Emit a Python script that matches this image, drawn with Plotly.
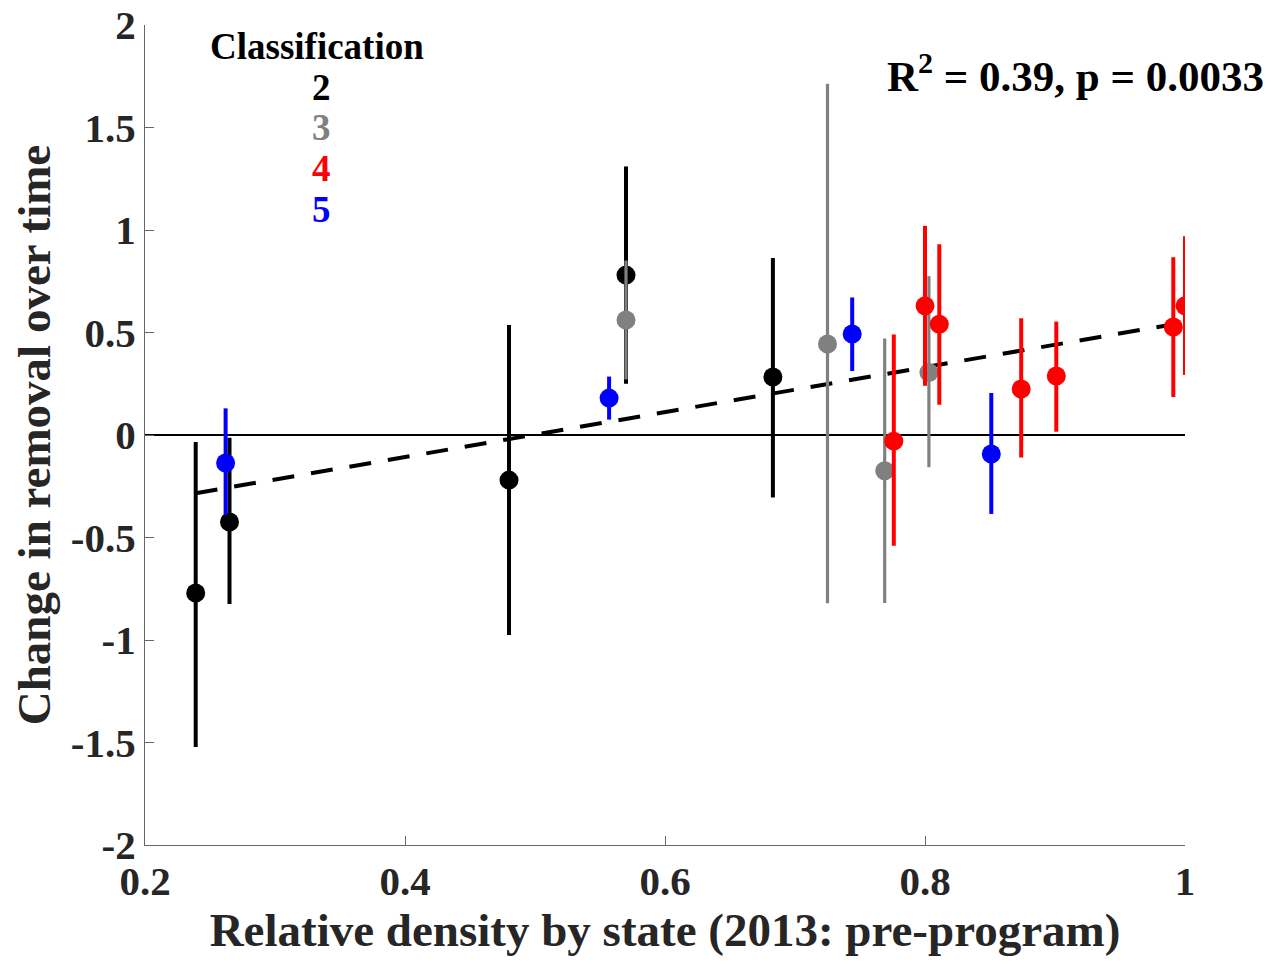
import plotly.graph_objects as go

# ---- data ----
classes = ["2", "3", "4", "5"]
class_colors = ["#000000", "#808080", "#ff0000", "#0000ff"]

x_c2 = [0.239, 0.265, 0.480, 0.570, 0.683]
y_c2 = [-0.771, -0.424, -0.220, 0.780, 0.283]
eu_c2 = [0.737, 0.410, 0.757, 0.530, 0.580]
ed_c2 = [0.751, 0.400, 0.756, 0.530, 0.588]

x_c3 = [0.570, 0.725, 0.769, 0.803]
y_c3 = [0.561, 0.444, -0.174, 0.305]
eu_c3 = [0.290, 1.270, 0.645, 0.470]
ed_c3 = [0.290, 1.265, 0.645, 0.462]

x_c4 = [0.776, 0.800, 0.811, 0.874, 0.901, 0.991, 1.000]
y_c4 = [-0.030, 0.630, 0.540, 0.224, 0.288, 0.527, 0.630]
eu_c4 = [0.520, 0.390, 0.390, 0.346, 0.265, 0.340, 0.340]
ed_c4 = [0.510, 0.390, 0.392, 0.334, 0.272, 0.342, 0.337]

x_c5 = [0.262, 0.557, 0.744, 0.851]
y_c5 = [-0.137, 0.180, 0.493, -0.093]
eu_c5 = [0.267, 0.105, 0.178, 0.298]
ed_c5 = [0.253, 0.105, 0.181, 0.292]

fit_slope = 1.096
fit_intercept = -0.546
fit_x = [0.239, 1.000]

x_ticks = [0.2, 0.4, 0.6, 0.8, 1.0]
x_tick_labels = ["0.2", "0.4", "0.6", "0.8", "1"]
y_ticks = [-2, -1.5, -1, -0.5, 0, 0.5, 1, 1.5, 2]
y_tick_labels = ["-2", "-1.5", "-1", "-0.5", "0", "0.5", "1", "1.5", "2"]

stats_text = "R<sup>2</sup> = 0.39, p = 0.0033"
x_title = "Relative density by state (2013: pre-program)"
y_title = "Change in removal over time"
legend_title = "Classification"

FONT = "Liberation Serif"

fig = go.Figure()

# zero line
fig.add_trace(go.Scatter(x=[x_ticks[0], x_ticks[-1]], y=[0, 0], mode="lines",
                         line=dict(color="black", width=1.8), showlegend=False,
                         hoverinfo="skip"))

# regression line
fig.add_trace(go.Scatter(x=fit_x, y=[fit_slope * v + fit_intercept for v in fit_x],
                         mode="lines", line=dict(color="black", width=4, dash="22px,17px"),
                         showlegend=False, hoverinfo="skip"))

series = [
    (x_c2, y_c2, eu_c2, ed_c2, 4),
    (x_c3, y_c3, eu_c3, ed_c3, 3.2),
    (x_c4, y_c4, eu_c4, ed_c4, 4),
    (x_c5, y_c5, eu_c5, ed_c5, 4),
]
for (xs, ys, eu, ed, th), name, col in zip(series, classes, class_colors):
    fig.add_trace(go.Scatter(
        x=xs, y=ys, mode="markers", name=name,
        marker=dict(color=col, size=19, line=dict(width=0)),
        error_y=dict(type="data", symmetric=False, array=eu, arrayminus=ed,
                     color=col, thickness=th, width=0),
        showlegend=False))

# legend as text
fig.add_annotation(x=0.332, y=1.893, xref="x", yref="y", text=legend_title,
                   showarrow=False, font=dict(family=FONT, size=37, color="black", weight="bold"))
leg_y = [1.693, 1.498, 1.298, 1.098]
for name, col, yy in zip(classes, class_colors, leg_y):
    fig.add_annotation(x=0.336, y=yy, xref="x", yref="y", text=name, showarrow=False,
                       font=dict(family=FONT, size=37, color=col, weight="bold"))

fig.add_annotation(x=1.078, y=0.942, xref="paper", yref="paper", text=stats_text,
                   xanchor="right", yanchor="middle", showarrow=False,
                   font=dict(family=FONT, size=43, color="black", weight="bold"))

axis_common = dict(showgrid=False, zeroline=False, showline=True, linecolor="#666666",
                   linewidth=1.2, ticks="inside", ticklen=9, tickcolor="#666666",
                   tickwidth=1.2, ticklabeloverflow="allow", automargin=False,
                   tickfont=dict(family=FONT, size=41, color="#262626", weight="bold"))

fig.update_xaxes(range=[0.2, 1.0], tickvals=x_ticks, ticktext=x_tick_labels,
                 title=dict(text=x_title, standoff=12,
                            font=dict(family=FONT, size=47, color="#262626", weight="bold")),
                 **axis_common)
fig.update_yaxes(range=[-2, 2], tickvals=y_ticks, ticktext=y_tick_labels,
                 title=dict(text=y_title, standoff=8,
                            font=dict(family=FONT, size=47, color="#262626", weight="bold")),
                 **axis_common)

# page body has an 8px margin: shrink the figure so the plot lands where the reference has it
fig.update_layout(width=1255, height=948, plot_bgcolor="white", paper_bgcolor="white",
                  margin=dict(l=137, r=78, t=17, b=111), showlegend=False)

fig.write_html("out.html")
